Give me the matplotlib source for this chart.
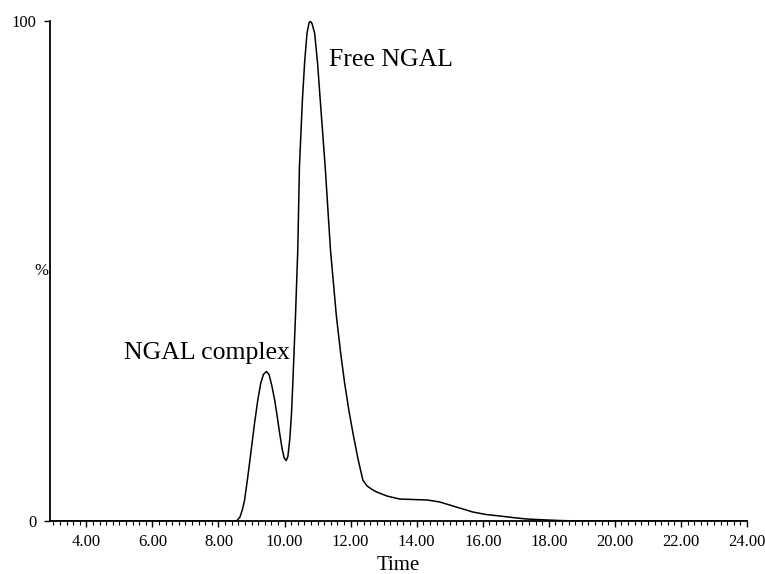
import numpy as np
import matplotlib
matplotlib.use('Agg')
import matplotlib.pyplot as plt
from matplotlib.ticker import MultipleLocator, FormatStrFormatter

plt.rcParams['font.family'] = ['Liberation Serif', 'DejaVu Serif']

# chromatogram trace, time (min) vs relative intensity (%)
time = [2.90, 8.55, 8.65, 8.72, 8.79, 8.89, 8.99, 9.09, 9.19, 9.28, 9.36,
        9.45, 9.53, 9.61, 9.70, 9.78, 9.85, 9.93, 9.99, 10.05, 10.10, 10.16,
        10.21, 10.25, 10.33, 10.40, 10.45, 10.54, 10.61, 10.68, 10.74, 10.78,
        10.83, 10.91, 11.00, 11.08, 11.23, 11.39, 11.57, 11.70, 11.82, 11.95,
        12.07, 12.22, 12.37, 12.50, 12.65, 12.79, 13.10, 13.48, 13.90, 14.33,
        14.70, 15.00, 15.35, 15.70, 16.10, 16.52, 16.90, 17.33, 17.80, 18.33,
        18.94, 24.00]
intensity = [0.0, 0.0, 0.8, 2.2, 4.2, 9.0, 14.2, 19.5, 24.2, 27.6, 29.3,
             29.9, 29.3, 27.2, 24.2, 20.8, 17.6, 14.3, 12.6, 12.1, 12.9, 16.5,
             21.5, 27.6, 40.9, 54.2, 70.8, 84.2, 92.0, 97.6, 99.6, 100.0,
             99.5, 97.6, 91.5, 84.2, 70.8, 54.2, 40.9, 33.5, 27.5, 22.0,
             17.6, 12.5, 8.2, 7.0, 6.3, 5.8, 5.0, 4.4, 4.3, 4.2,
             3.8, 3.2, 2.5, 1.8, 1.3, 1.0, 0.7, 0.4, 0.25, 0.1,
             0.0, 0.0]

peak_labels = ['NGAL complex', 'Free NGAL']
peak_label_pos = [(5.15, 33.6), (11.36, 92.2)]

fig = plt.figure(figsize=(7.65, 5.74), dpi=100)
ax = fig.add_axes([0.0654, 0.0923, 0.9111, 0.8711])

ax.plot(time, intensity, color='black', linewidth=1.1)

for lab, (tx, ty) in zip(peak_labels, peak_label_pos):
    ax.text(tx, ty, lab, fontsize=18.5, ha='left', va='center')

ax.set_xlim(2.9, 24.0)
ax.set_ylim(0, 100)

ax.spines['top'].set_visible(False)
ax.spines['right'].set_visible(False)
ax.spines['left'].set_linewidth(1.3)
ax.spines['bottom'].set_linewidth(1.3)

ax.xaxis.set_minor_locator(MultipleLocator(0.2))
ax.xaxis.set_major_formatter(FormatStrFormatter('%.2f'))
ax.set_xticks([4, 6, 8, 10, 12, 14, 16, 18, 20, 22, 24])
ax.set_yticks([0, 100])
ax.set_yticklabels(['0', '100'])

ax.tick_params(axis='x', which='major', direction='out', length=4.5, width=1.0,
               labelsize=12, pad=5)
ax.tick_params(axis='x', which='minor', direction='out', length=3, width=0.8)
ax.tick_params(axis='y', direction='out', length=4, width=1.0, labelsize=12, pad=6)

ax.text(-0.002, 0.5, '%', transform=ax.transAxes, fontsize=12,
        ha='right', va='center')
ax.set_xlabel('Time', fontsize=15, labelpad=4)

plt.savefig('out.png', dpi=100)
